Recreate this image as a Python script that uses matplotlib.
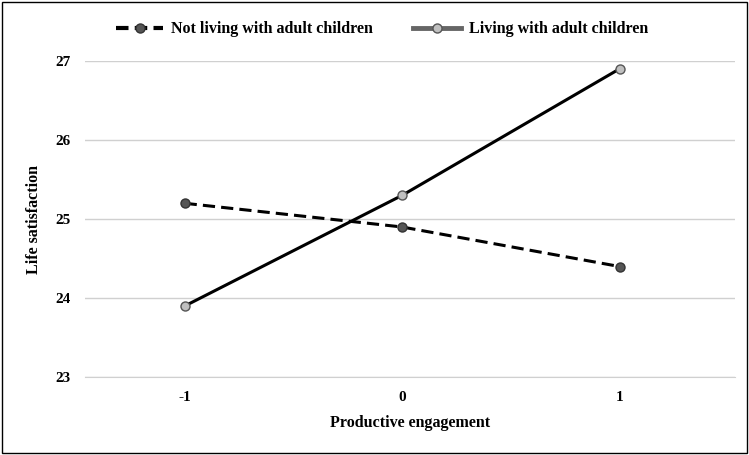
import matplotlib
matplotlib.use("Agg")
import matplotlib.pyplot as plt
from matplotlib.lines import Line2D

plt.rcParams["font.family"] = ["Liberation Serif", "DejaVu Serif"]
plt.rcParams["font.weight"] = "bold"

engagement = [-1, 0, 1]
tick_labels = ["-1", "0", "1"]
not_living = [25.2, 24.9, 24.4]
living = [23.9, 25.3, 26.9]

fig = plt.figure(figsize=(7.49, 4.55), dpi=100)
ax = fig.add_axes([0.113, 0.171, 0.868, 0.695])

ax.plot(engagement, not_living, color="black", lw=2.2, ls=(0, (4, 2)),
        marker="o", ms=6.5, mfc="#555555", mec="#333333", zorder=3)
ax.plot(engagement, living, color="black", lw=2.2,
        marker="o", ms=6.5, mfc="#c0c0c0", mec="#555555", zorder=3)

ax.set_xlim(-1.46, 1.53)
ax.set_ylim(23, 27)
ax.set_yticks([23, 24, 25, 26, 27])
ax.set_xticks(engagement)
ax.set_xticklabels(tick_labels)
ax.grid(axis="y", color="#d0d0d0", lw=1)
ax.set_axisbelow(True)
for s in ["top", "right", "left"]:
    ax.spines[s].set_visible(False)
ax.spines["bottom"].set_color("#d0d0d0")
ax.tick_params(length=0, labelsize=11, pad=10)
ax.set_xlabel("Productive engagement", fontsize=11.5, fontweight="bold", labelpad=8)
ax.set_ylabel("Life satisfaction", fontsize=11.5, fontweight="bold", labelpad=10)

handles = [
    Line2D([], [], color="black", lw=3, ls=(0, (3, 1.5)), marker="o", ms=6.5,
           mfc="#555555", mec="#333333"),
    Line2D([], [], color="#666666", lw=3.5, marker="o", ms=6.5,
           mfc="#c0c0c0", mec="#555555"),
]
fig.legend(handles, ["Not living with adult children", "Living with adult children"],
           loc="upper center", bbox_to_anchor=(0.51, 0.985), ncol=2, frameon=False,
           prop={"size": 11.5, "weight": "bold"}, handlelength=3, columnspacing=2.5,
           handletextpad=0.5)

fig.patches.append(plt.Rectangle((0.003, 0.004), 0.994, 0.992, transform=fig.transFigure,
                                 fill=False, ec="black", lw=1))
fig.savefig("out.png", dpi=100)
